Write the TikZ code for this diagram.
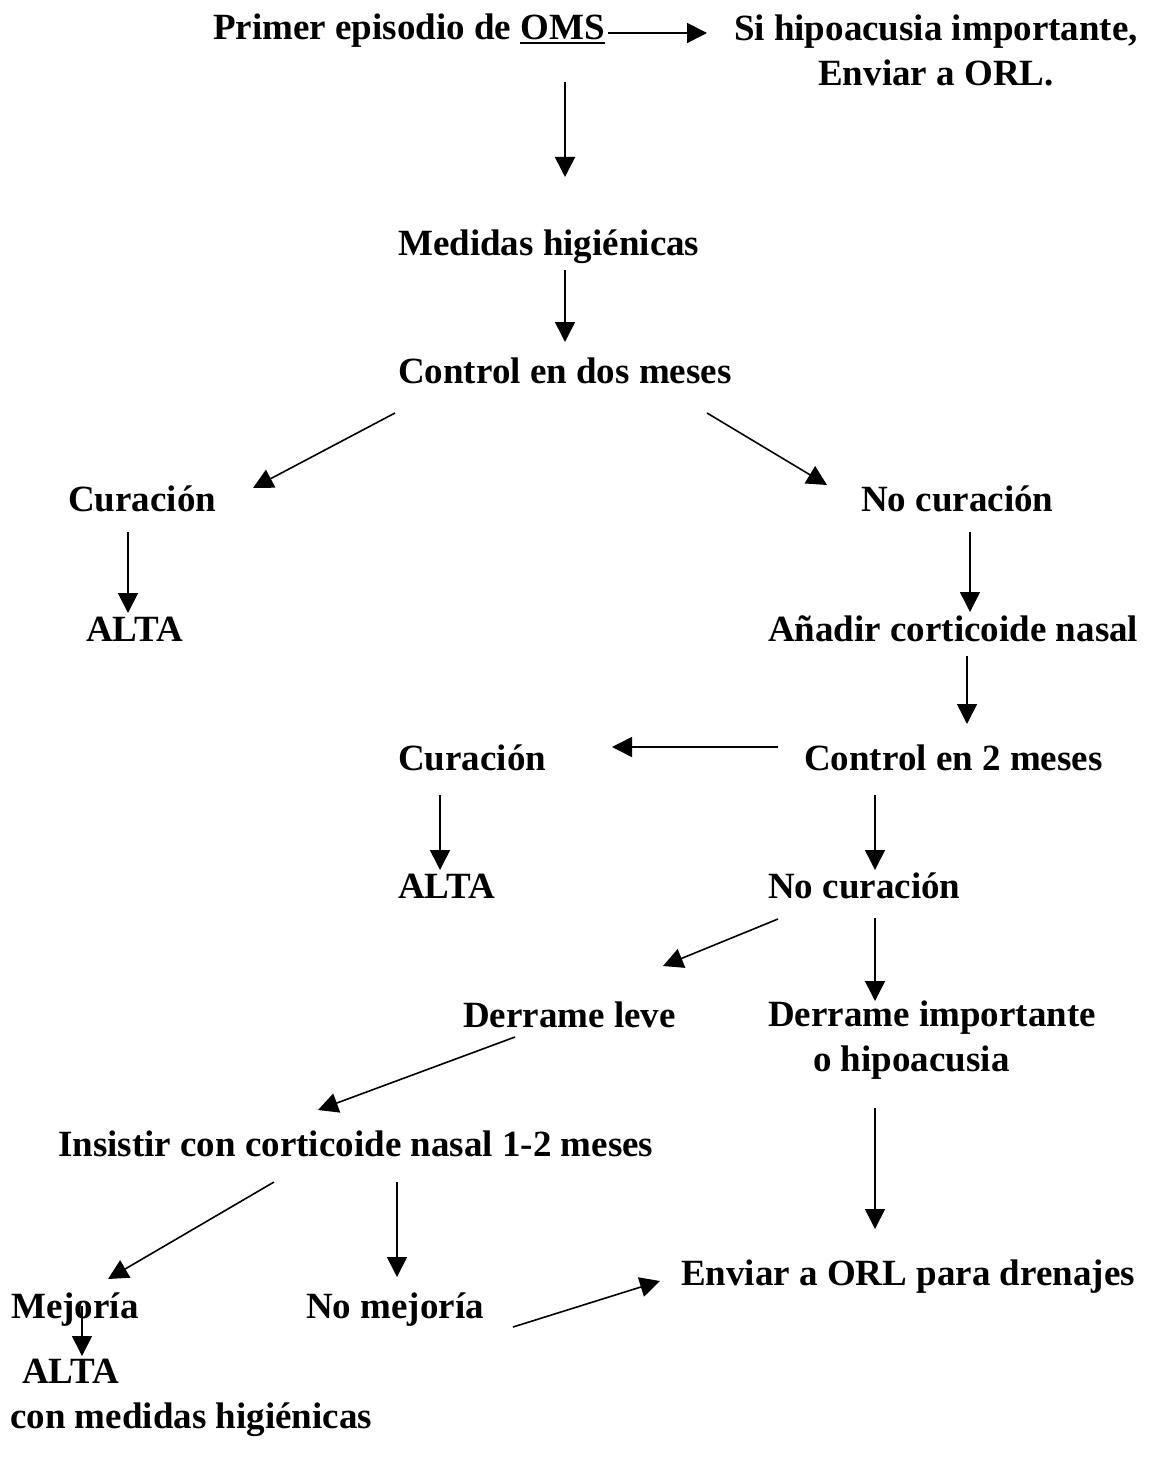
\documentclass[tikz,border=0pt]{standalone}
\usepackage{fontspec}
\setmainfont{Liberation Serif}
\usetikzlibrary{arrows.meta}
\newcommand\subrayado[1]{\vtop{\hbox{#1}\kern1.5pt\hrule height 2.6pt}}
\tikzset{
paso/.style={
  anchor=base west,
  inner sep=0pt,
  font=\fontsize{37}{45}\selectfont\bfseries
  },
flecha/.style={-{Triangle[length=20pt,width=20pt]}, line width=1.6pt},
}

\begin{document}
\begin{tikzpicture}[x=1pt,y=-1pt]
    \useasboundingbox (0,0) rectangle (1151,1463);
    % textos del algoritmo (las de dos lineas van por la base de la ultima)
    \node [paso] (oms) at (213,40) {Primer episodio de \subrayado{OMS}};
    \node [paso, anchor=base, align=center] (orl) at (936,86) {Si hipoacusia importante,\\Enviar a ORL.};
    \node [paso] (medidas) at (398,255) {Medidas higiénicas};
    \node [paso] (control1) at (398,383) {Control en dos meses};
    \node [paso] (cura1) at (68,511) {Curación};
    \node [paso] (nocura1) at (861,511) {No curación};
    \node [paso] (alta1) at (86,641) {ALTA};
    \node [paso] (anadir) at (768,641) {Añadir corticoide nasal};
    \node [paso] (cura2) at (398,770) {Curación};
    \node [paso] (control2) at (804,770) {Control en 2 meses};
    \node [paso] (alta2) at (398,898) {ALTA};
    \node [paso] (nocura2) at (768,898) {No curación};
    \node [paso] (leve) at (463,1027) {Derrame leve};
    \node [paso, align=left] (importante) at (768,1071) {Derrame importante\\\hspace*{45pt}o hipoacusia};
    \node [paso] (insistir) at (58,1156) {Insistir con corticoide nasal 1-2 meses};
    \node [paso] (drenajes) at (681,1285) {Enviar a ORL para drenajes};
    \node [paso] (mejoria) at (11,1318) {Mejoría};
    \node [paso] (nomejoria) at (306,1318) {No mejoría};
    \node [paso, align=left] (alta3) at (10,1428) {\hspace*{12pt}ALTA\\con medidas higiénicas};

    % extremos de las flechas
    \coordinate (f1a) at (608,33);   \coordinate (f1b) at (707,33);
    \coordinate (f2a) at (565,82);   \coordinate (f2b) at (565,177);
    \coordinate (f3a) at (565,270);  \coordinate (f3b) at (565,342);
    \coordinate (f4a) at (395,413);  \coordinate (f4b) at (253,488);
    \coordinate (f5a) at (707,413);  \coordinate (f5b) at (827,485);
    \coordinate (f6a) at (128,532);  \coordinate (f6b) at (128,613);
    \coordinate (f7a) at (970,532);  \coordinate (f7b) at (970,612);
    \coordinate (f8a) at (967,656);  \coordinate (f8b) at (967,724);
    \coordinate (f9a) at (778,747);  \coordinate (f9b) at (612,747);
    \coordinate (f10a) at (440,795); \coordinate (f10b) at (440,870);
    \coordinate (f11a) at (875,795); \coordinate (f11b) at (875,870);
    \coordinate (f12a) at (778,919); \coordinate (f12b) at (663,966);
    \coordinate (f13a) at (875,918); \coordinate (f13b) at (875,1001);
    \coordinate (f14a) at (515,1037); \coordinate (f14b) at (318,1110);
    \coordinate (f15a) at (274,1182); \coordinate (f15b) at (108,1279);
    \coordinate (f16a) at (397,1182); \coordinate (f16b) at (397,1277);
    \coordinate (f17a) at (875,1108); \coordinate (f17b) at (875,1229);
    \coordinate (f18a) at (513,1327); \coordinate (f18b) at (660,1281);
    \coordinate (f19a) at (82,1306);  \coordinate (f19b) at (82,1356);

    \foreach \i in {1,...,19}
    {
        \draw [flecha] (f\i a) -- (f\i b);
    }
\end{tikzpicture}
\end{document}
